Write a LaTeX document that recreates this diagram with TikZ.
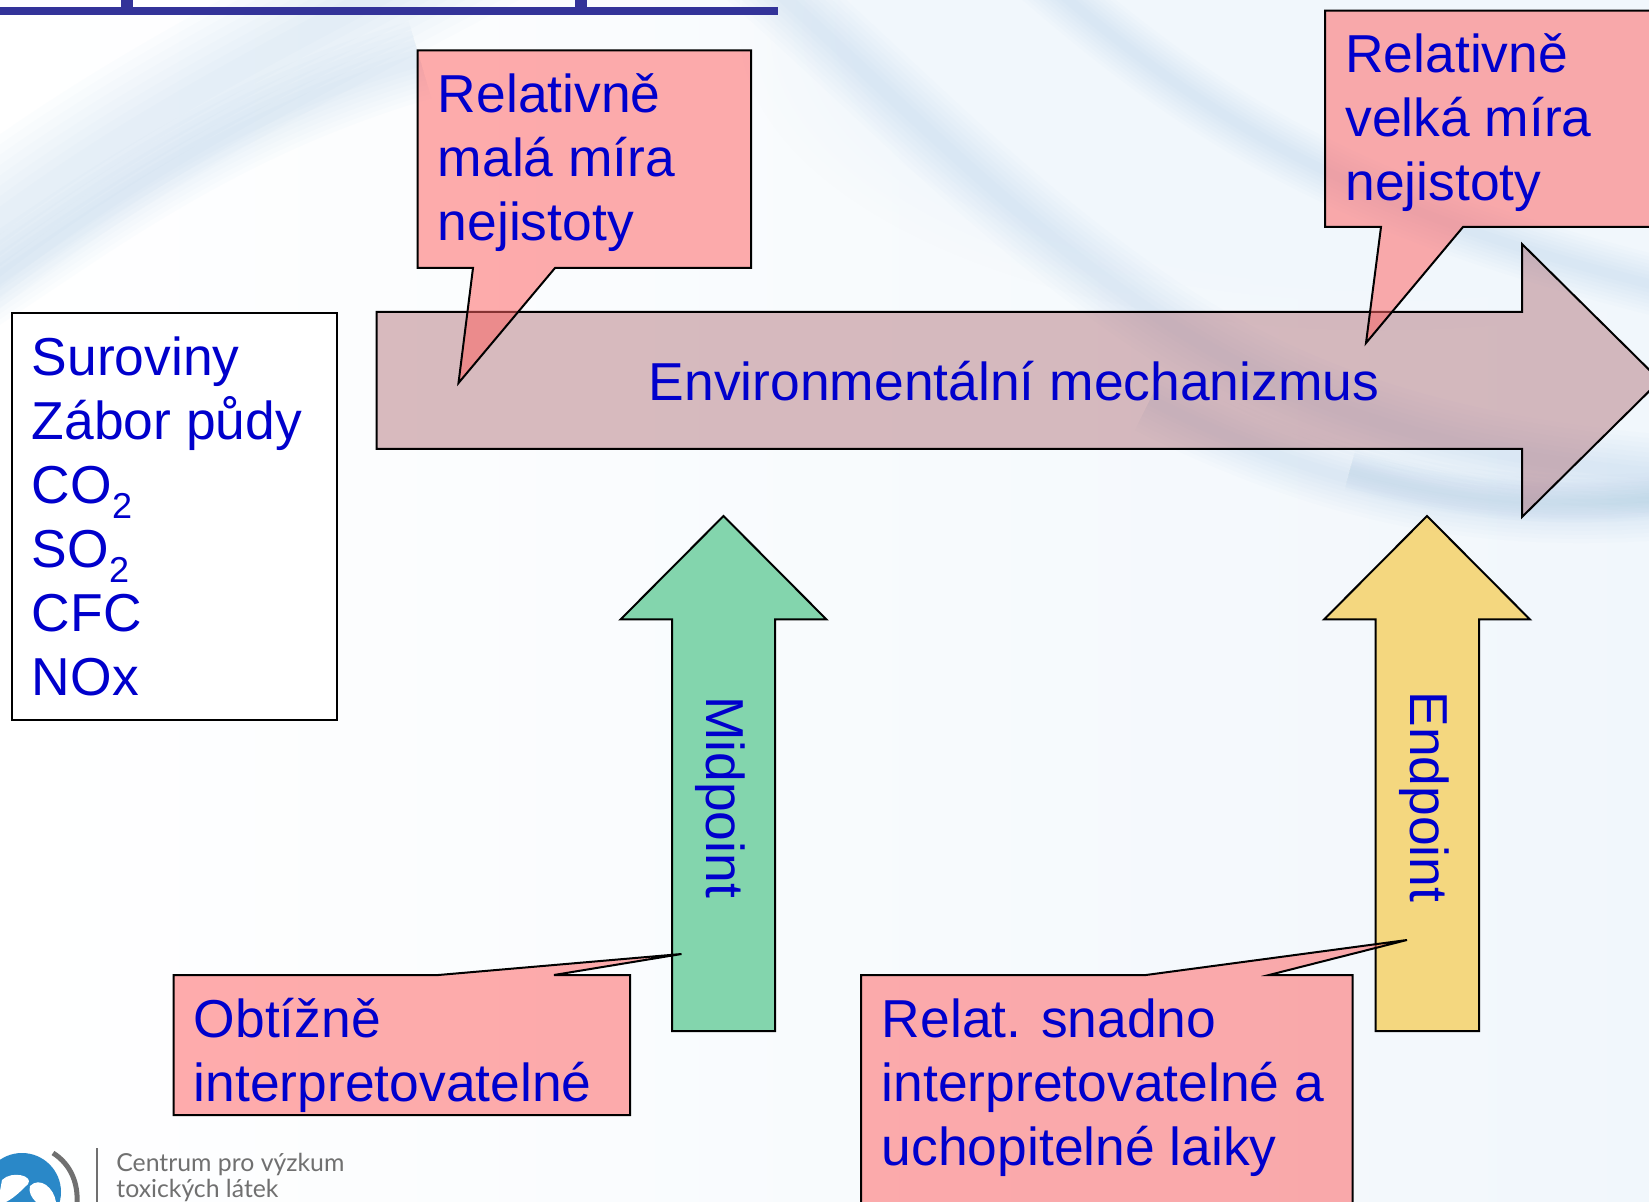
\documentclass[tikz,border=0pt]{standalone}
\usepackage{fontspec}
\setmainfont{Liberation Sans}
\newfontfamily\logofont{Lato}
\usetikzlibrary{calc,fadings}
\definecolor{txtblue}{HTML}{0000CC}
\definecolor{calloutfill}{HTML}{FF6060}
\definecolor{mainfill}{HTML}{B07078}
\definecolor{barblue}{HTML}{333399}
\definecolor{greenfill}{HTML}{66CC99}
\definecolor{yellowfill}{HTML}{F5CF60}
\definecolor{swoosh}{HTML}{9CC4E8}
\definecolor{logogray}{HTML}{707070}
\definecolor{globeblue}{HTML}{2A88C8}
\tikzset{
  x=0.5pt,y=-0.5pt,
  callout/.style={draw=black,line width=1pt,line join=miter,fill=calloutfill,fill opacity=0.52},
  bigarrow/.style={draw=black,line width=1pt,line join=miter,fill opacity=0.8},
  lbl/.style={text=txtblue,font=\fontsize{26.7}{32}\selectfont,inner sep=0pt,align=left},
  blur/.style={swoosh,opacity=0.032,line cap=butt},
}
\newcommand{\softband}[2]{%
  \foreach \w in {1,0.88,0.76,0.64,0.52,0.4,0.28,0.16}{%
    \draw[blur,line width=\w*#1] #2;
  }%
}
\newcommand{\lowtwo}{\raisebox{-0.28em}{\fontsize{18}{18}\selectfont 2}}
\begin{document}
\begin{tikzpicture}
\useasboundingbox (0,0) rectangle (1649,1202);
\clip (0,0) rectangle (1649,1202);
% background
\fill[white] (0,0) rectangle (1649,1202);
\shade[left color=white,right color=swoosh!14] (0,0) rectangle (1649,1202);
\fill[swoosh!14,path fading=circle with fuzzy edge 20 percent] (1380,30) ellipse [x radius=640,y radius=300];
\softband{70pt}{(-100,300) .. controls (100,130) and (260,60) .. (520,-80)}
\softband{40pt}{(-100,340) .. controls (40,260) and (180,130) .. (420,60)}
\softband{40pt}{(720,-60) .. controls (880,80) and (980,190) .. (1120,290) .. controls (1270,400) and (1450,470) .. (1760,480)}
\softband{30pt}{(1000,-60) .. controls (1200,120) and (1350,220) .. (1760,310)}
\softband{34pt}{(1150,400) .. controls (1350,500) and (1520,530) .. (1760,495)}
\softband{20pt}{(1350,470) .. controls (1500,510) and (1600,510) .. (1760,485)}
% title bar
\fill[barblue] (0,7) rectangle (778,15);
\fill[barblue] (121,0) rectangle (133,15);
\fill[barblue] (575,0) rectangle (587,15);
% main arrow
\draw[bigarrow,fill=mainfill,fill opacity=.47] (376.5,312) -- (1522,312) -- (1522,244) -- (1660,380.5) -- (1522,517) -- (1522,449) -- (376.5,449) -- cycle;
\node[lbl,anchor=center] (mech) at (1014,381) {Environmentální mechanizmus};
% inputs box
\draw[line width=1pt,fill=white] (11.5,313) rectangle (336.5,720);
\node[lbl,anchor=north west] (inputs) at (31.5,336) {Suroviny\\Zábor půdy\\CO\lowtwo\\SO\lowtwo\\CFC\\NOx};
% up arrows
\draw[bigarrow,fill=greenfill] (672,1031) -- (672,619.5) -- (620.5,619.5) -- (723.5,516) -- (826.5,619.5) -- (775,619.5) -- (775,1031) -- cycle;
\node[lbl,anchor=center,rotate=-90] (mid) at (720,797) {Midpoint};
\draw[bigarrow,fill=yellowfill] (1375.5,1031) -- (1375.5,619.5) -- (1324,619.5) -- (1427,516) -- (1530,619.5) -- (1479,619.5) -- (1479,1031) -- cycle;
\node[lbl,anchor=center,rotate=-90] (end) at (1424,797) {Endpoint};
% callouts
\draw[callout] (417.5,50.5) -- (751,50.5) -- (751,268) -- (555,268) -- (458.5,383) -- (473,268) -- (417.5,268) -- cycle;
\node[lbl,anchor=north west] (c1) at (437.5,73) {Relativně\\malá míra\\nejistoty};
\draw[callout] (1325,10.7) -- (1670,10.7) -- (1670,227) -- (1463,227) -- (1366,343) -- (1381,227) -- (1325,227) -- cycle;
\node[lbl,anchor=north west] (c2) at (1345,33.5) {Relativně\\velká míra\\nejistoty};
\draw[callout] (173.5,975) -- (438.5,975) -- (681.5,954) -- (554,975) -- (630,975) -- (630,1115) -- (173.5,1115) -- cycle;
\node[lbl,anchor=north west] (c3) at (193.5,998) {Obtížně\\interpretovatelné};
\draw[callout] (861,975) -- (1146,975) -- (1407,940) -- (1269,975) -- (1352.5,975) -- (1352.5,1230) -- (861,1230) -- cycle;
\node[lbl,anchor=north west] (c4) at (881.5,998) {Relat. snadno\\interpretovatelné a\\uchopitelné laiky};
% logo
\fill[globeblue] (22,1192) circle (39);
\fill[white] (2,1180) .. controls (12,1170) and (34,1176) .. (28,1184) .. controls (22,1190) and (14,1198) .. (6,1202) -- (-2,1202) -- cycle;
\fill[white] (30,1186) .. controls (40,1176) and (54,1188) .. (56,1202) -- (36,1202) .. controls (32,1198) and (28,1192) .. (30,1186) -- cycle;
\draw[logogray,line width=2.5pt] (53,1153) .. controls (72,1165) and (78,1185) .. (77,1202);
\draw[logogray,line width=.7pt] (97,1148) -- (97,1202);
\node[text=logogray,font=\logofont\fontsize{12.4}{14}\selectfont,anchor=base west,inner sep=0pt] (l1) at (116,1171) {Centrum pro výzkum};
\node[text=logogray,font=\logofont\fontsize{12.4}{14}\selectfont,anchor=base west,inner sep=0pt] (l2) at (116,1197) {toxických látek};
\end{tikzpicture}
\end{document}
